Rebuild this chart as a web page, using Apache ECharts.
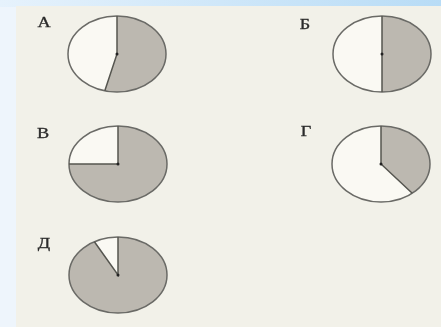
<!DOCTYPE html>
<html>
<head>
<meta charset="utf-8">
<script src="https://cdn.jsdelivr.net/npm/echarts@6/dist/echarts.min.js"></script>
<style>
  html, body { margin: 0; padding: 0; }
  #main { width: 441px; height: 327px; }
</style>
</head>
<body>
<div id="main"></div>
<script>
// подписи диаграмм и доля закрашенного сектора (по часовой от 12 часов)
var labels = ['А', 'Б', 'В', 'Г', 'Д']
var shaded = [0.54, 0.5, 0.75, 0.39, 0.92]

// расположение кругов: центр и полуоси (картинка растянута по горизонтали)
var centers = [[117, 54], [382, 54], [118, 164], [381, 164], [118, 275]]
var labelPos = [[44, 23], [305, 25], [43, 134], [306, 132], [44, 244]]
var rx = 49
var ry = 38

var myChart = echarts.init(document.getElementById('main'))

function sectorPoints(api, from, to) {
  var pts = [api.coord([0, 0])]
  var steps = Math.max(2, Math.ceil((to - from) * 120))
  for (var k = 0; k <= steps; k++) {
    var t = (from + (to - from) * k / steps) * Math.PI * 2
    pts.push(api.coord([Math.sin(t), Math.cos(t)]))
  }
  return pts
}

function renderPie(params, api) {
  var f = api.value(0)
  var c = api.coord([0, 0])
  var top = api.coord([0, 1])
  var t = f * Math.PI * 2
  var end = api.coord([Math.sin(t), Math.cos(t)])
  var size = api.size([1, 1])
  return {
    type: 'group',
    children: [
      {
        type: 'polygon',
        shape: { points: sectorPoints(api, 0, f) },
        style: { fill: '#bcb8b0', stroke: null }
      },
      {
        type: 'polygon',
        shape: { points: sectorPoints(api, f, 1) },
        style: { fill: '#faf9f3', stroke: null }
      },
      {
        type: 'ellipse',
        shape: { cx: c[0], cy: c[1], rx: size[0], ry: size[1] },
        style: { fill: null, stroke: '#6a6a66', lineWidth: 1.5 }
      },
      {
        type: 'polyline',
        shape: { points: [top, c, end] },
        style: { stroke: '#55554f', lineWidth: 1.5, fill: null }
      },
      {
        type: 'circle',
        shape: { cx: c[0], cy: c[1], r: 1.5 },
        style: { fill: '#222' }
      }
    ]
  }
}

var grids = []
var xAxes = []
var yAxes = []
var series = []
var texts = []
for (var i = 0; i < labels.length; i++) {
  grids.push({
    left: centers[i][0] - rx,
    top: centers[i][1] - ry,
    width: rx * 2,
    height: ry * 2
  })
  xAxes.push({ gridIndex: i, type: 'value', min: -1, max: 1, show: false })
  yAxes.push({ gridIndex: i, type: 'value', min: -1, max: 1, show: false })
  series.push({
    type: 'custom',
    xAxisIndex: i,
    yAxisIndex: i,
    renderItem: renderPie,
    data: [[shaded[i]]],
    silent: true
  })
  texts.push({
    type: 'text',
    x: labelPos[i][0],
    y: labelPos[i][1],
    scaleX: 1.3,
    z: 10,
    style: {
      text: labels[i],
      x: 0,
      y: 0,
      align: 'center',
      verticalAlign: 'middle',
      fontFamily: 'Liberation Serif',
      fontSize: 14,
      fill: '#2a2a2a',
      stroke: '#2a2a2a',
      lineWidth: 0.3
    }
  })
}

var option = {
  backgroundColor: '#eef5fc',
  animation: false,
  graphic: [
    {
      type: 'rect',
      z: -10,
      shape: { x: 0, y: 0, width: 441, height: 7 },
      style: {
        fill: new echarts.graphic.LinearGradient(0, 0, 1, 0, [
          { offset: 0, color: '#e6f2fc' },
          { offset: 1, color: '#b8dcf6' }
        ])
      }
    },
    {
      type: 'rect',
      z: -9,
      shape: { x: 16, y: 6, width: 425, height: 321 },
      style: { fill: '#f2f1e9' }
    }
  ].concat(texts),
  grid: grids,
  xAxis: xAxes,
  yAxis: yAxes,
  series: series
}

myChart.setOption(option)
</script>
</body>
</html>
